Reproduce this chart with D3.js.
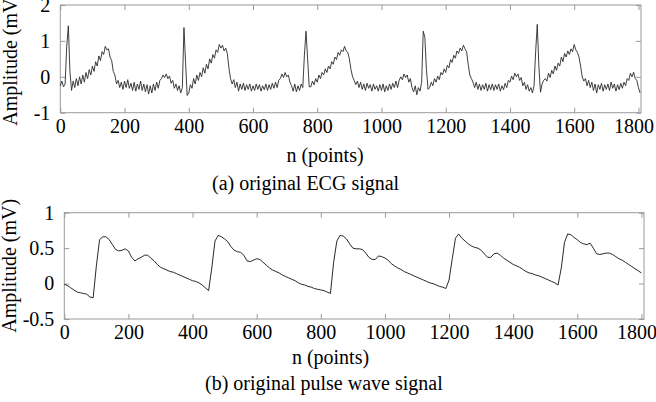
<!DOCTYPE html>
<html>
<head>
<meta charset="utf-8">
<script src="https://cdn.jsdelivr.net/npm/d3@7"></script>
<style>
  body { margin: 0; background: #fff; }
</style>
</head>
<body>
<svg id="chart" width="656" height="402"></svg>
<script>
// ECG samples, one every 5 points (n = 0, 5, 10 ...), mV
var ecgStep = 5;
var ecgValues = [
  -0.25, -0.12, -0.28, -0.2, 0.85, 1.42, 0.15, -0.38, -0.12, -0.3,      // 0
  -0.05, -0.25, 0.0, -0.2, 0.05, -0.15, 0.12, -0.05, 0.2, 0.05,         // 50
  0.3, 0.15, 0.42, 0.3, 0.58, 0.45, 0.7, 0.62, 0.85, 0.75,              // 100
  0.78, 0.55, 0.45, 0.15, 0.05, -0.2, -0.1, -0.3, -0.15, -0.35,         // 150
  -0.12, -0.3, -0.08, -0.32, -0.18, -0.38, -0.15, -0.4, -0.2, -0.35,    // 200
  -0.12, -0.38, -0.2, -0.42, -0.22, -0.48, -0.25, -0.45, -0.2, -0.38,   // 250
  -0.15, -0.32, -0.1, -0.05, 0.05, -0.02, 0.08, -0.05, 0.02, -0.18,     // 300
  -0.1, -0.32, -0.2, -0.38, -0.25, -0.45, -0.3, 1.37, 0.4, -0.52,       // 350
  -0.45, -0.22, -0.32, -0.05, -0.2, 0.05, -0.1, 0.12, 0.0, 0.25,        // 400
  0.1, 0.35, 0.22, 0.5, 0.38, 0.62, 0.52, 0.75, 0.68, 0.9,              // 450
  0.8, 0.88, 0.72, 0.8, 0.65, 0.25, -0.05, -0.2, -0.08, -0.3,           // 500
  -0.15, -0.4, -0.2, -0.35, -0.18, -0.38, -0.22, -0.35, -0.2, -0.4,     // 550
  -0.25, -0.38, -0.2, -0.35, -0.22, -0.4, -0.25, -0.36, -0.2, -0.38,    // 600
  -0.22, -0.35, -0.18, -0.32, -0.15, -0.3, -0.1, -0.05, 0.08, -0.02,    // 650
  0.12, 0.0, 0.05, -0.15, -0.25, -0.4, -0.2, -0.42, -0.25, -0.38,       // 700
  -0.2, -0.3, 0.6, 1.27, 0.5, -0.28, -0.28, -0.12, -0.22, -0.05,        // 750
  -0.15, 0.05, -0.05, 0.12, 0.05, 0.22, 0.12, 0.3, 0.22, 0.42,          // 800
  0.35, 0.55, 0.48, 0.68, 0.6, 0.75, 0.7, 0.85, 0.72, 0.68,             // 850
  0.5, 0.2, 0.0, -0.1, -0.22, -0.12, -0.3, -0.15, -0.35, -0.2,          // 900
  -0.38, -0.18, -0.32, -0.22, -0.4, -0.2, -0.35, -0.25, -0.4, -0.22,    // 950
  -0.38, -0.2, -0.42, -0.25, -0.38, -0.2, -0.35, -0.18, -0.3, -0.12,    // 1000
  -0.3, -0.1, 0.0, -0.08, 0.08, -0.02, 0.05, -0.15, -0.05, -0.3,        // 1050
  -0.42, -0.25, -0.5, -0.3, -0.4, -0.15, 1.27, 1.1, 0.2, -0.35,         // 1100
  -0.3, -0.15, -0.25, -0.05, -0.15, 0.02, -0.08, 0.12, 0.05, 0.22,      // 1150
  0.12, 0.32, 0.25, 0.48, 0.4, 0.6, 0.52, 0.72, 0.65, 0.8,              // 1200
  0.72, 0.88, 0.78, 0.7, 0.35, 0.05, -0.05, -0.15, -0.3, -0.15,         // 1250
  -0.35, -0.2, -0.38, -0.22, -0.35, -0.18, -0.4, -0.22, -0.36, -0.2,    // 1300
  -0.38, -0.22, -0.35, -0.2, -0.4, -0.25, -0.36, -0.18, -0.3, -0.1,     // 1350
  -0.15, 0.02, -0.08, 0.1, 0.0, 0.08, -0.1, -0.02, -0.25, -0.15,        // 1400
  -0.35, -0.22, -0.4, -0.3, -0.45, -0.25, 0.7, 1.46, 0.3, -0.43,        // 1450
  -0.2, -0.1, -0.05, -0.12, 0.1, -0.02, 0.18, 0.08, 0.3, 0.18,          // 1500
  0.38, 0.3, 0.55, 0.42, 0.65, 0.55, 0.72, 0.62, 0.78, 0.7,             // 1550
  0.9, 0.75, 0.68, 0.55, 0.3, 0.0, -0.12, -0.05, -0.25, -0.1,           // 1600
  -0.3, -0.15, -0.38, -0.2, -0.45, -0.22, -0.35, -0.18, -0.4, -0.22,    // 1650
  -0.35, -0.2, -0.38, -0.15, -0.32, -0.2, -0.4, -0.22, -0.36, -0.18,    // 1700
  -0.32, -0.15, -0.25, -0.05, -0.1, 0.1, 0.0, 0.13, -0.05, -0.1,        // 1750
  -0.3, -0.45                                                            // 1800
];

// pulse wave samples, one every 10 points, mV
var pulseStep = 10;
var pulseValues = [
  -0.01, -0.03, -0.06, -0.09, -0.12, -0.13, -0.14, -0.15, -0.19, -0.2,  // 0
  0.25, 0.62, 0.66, 0.66, 0.62, 0.55, 0.48, 0.46, 0.47, 0.49,           // 100
  0.46, 0.37, 0.32, 0.35, 0.37, 0.4, 0.4, 0.36, 0.32, 0.27,             // 200
  0.23, 0.21, 0.19, 0.17, 0.16, 0.14, 0.12, 0.1, 0.08, 0.06,            // 300
  0.04, 0.03, 0.01, -0.02, -0.06, -0.1, 0.22, 0.6, 0.68, 0.66,          // 400
  0.63, 0.59, 0.52, 0.47, 0.45, 0.44, 0.4, 0.32, 0.31, 0.33,            // 500
  0.35, 0.34, 0.3, 0.26, 0.22, 0.19, 0.17, 0.15, 0.12, 0.1,             // 600
  0.08, 0.06, 0.04, 0.01, -0.01, -0.02, -0.04, -0.05, -0.07, -0.08,     // 700
  -0.09, -0.1, -0.12, -0.14, 0.3, 0.6, 0.68, 0.67, 0.63, 0.56,          // 800
  0.5, 0.49, 0.49, 0.48, 0.43, 0.37, 0.34, 0.34, 0.39, 0.38,            // 900
  0.36, 0.33, 0.28, 0.25, 0.22, 0.2, 0.17, 0.15, 0.13, 0.11,            // 1000
  0.09, 0.07, 0.05, 0.03, 0.01, 0.0, -0.02, -0.04, -0.05, -0.07,        // 1100
  0.05, 0.35, 0.64, 0.7, 0.64, 0.6, 0.56, 0.53, 0.51, 0.5,              // 1200
  0.47, 0.42, 0.37, 0.37, 0.42, 0.43, 0.4, 0.36, 0.33, 0.3,             // 1300
  0.27, 0.25, 0.23, 0.2, 0.17, 0.15, 0.14, 0.12, 0.11, 0.09,            // 1400
  0.07, 0.05, 0.03, 0.01, -0.02, 0.22, 0.58, 0.7, 0.69, 0.65,           // 1500
  0.62, 0.58, 0.56, 0.55, 0.57, 0.5, 0.42, 0.41, 0.42, 0.43,            // 1600
  0.43, 0.41, 0.38, 0.35, 0.33, 0.3, 0.27, 0.24, 0.21, 0.18, 0.15       // 1700
];

var xTicks = [0, 200, 400, 600, 800, 1000, 1200, 1400, 1600, 1800];
var ecgYTicks = [-1, 0, 1, 2];
var pulseYTicks = [-0.5, 0, 0.5, 1];
var xMax = 1808;

var FONT = "Liberation Serif";

var svg = d3.select("#chart");

function drawPanel(opt) {
  var x = d3.scaleLinear().domain([0, xMax]).range([opt.left, opt.right]);
  var y = d3.scaleLinear().domain(opt.yDomain).range([opt.bottom, opt.top]);
  var g = svg.append("g").attr("font-family", FONT).attr("font-size", 20);

  var bottomAxis = g.append("g")
    .attr("transform", "translate(0," + opt.bottom + ")")
    .call(d3.axisBottom(x).tickValues(xTicks).tickSizeInner(-5).tickSizeOuter(0).tickPadding(6)
      .tickFormat(function(d) { return String(d); }));
  bottomAxis.selectAll("text").filter(function(d) { return d == 1800; }).attr("dx", "-5");

  var topAxis = g.append("g")
    .attr("transform", "translate(0," + opt.top + ")")
    .call(d3.axisTop(x).tickValues(xTicks).tickSizeInner(-5).tickSizeOuter(0).tickFormat(""));

  var leftAxis = g.append("g")
    .attr("transform", "translate(" + opt.left + ",0)")
    .call(d3.axisLeft(y).tickValues(opt.yTicks).tickSizeInner(-5).tickSizeOuter(0).tickPadding(10)
      .tickFormat(function(d) { return String(d); }));

  var rightAxis = g.append("g")
    .attr("transform", "translate(" + opt.right + ",0)")
    .call(d3.axisRight(y).tickValues(opt.yTicks).tickSizeInner(-5).tickSizeOuter(0).tickFormat(""));

  [bottomAxis, topAxis, leftAxis, rightAxis].forEach(function(a) {
    a.attr("font-family", FONT).attr("font-size", 20);
    a.select(".domain").remove();
    a.selectAll("line").attr("stroke", "#9a9a9a");
    a.selectAll("text").attr("font-family", FONT).attr("font-size", 20).attr("fill", "#000");
  });

  g.append("rect")
    .attr("x", opt.left).attr("y", opt.top)
    .attr("width", opt.right - opt.left).attr("height", opt.bottom - opt.top)
    .attr("fill", "none").attr("stroke", "#9a9a9a").attr("stroke-width", 1);

  var line = d3.line()
    .x(function(d, i) { return x(i * opt.step); })
    .y(function(d) { return y(d); });

  g.append("path")
    .datum(opt.values)
    .attr("fill", "none")
    .attr("stroke", opt.color)
    .attr("stroke-width", 0.9)
    .attr("stroke-linejoin", "round")
    .attr("d", line);

  g.append("text")
    .attr("transform", "translate(" + opt.ylabelX + "," + ((opt.top + opt.bottom) / 2) + ") rotate(-90)")
    .attr("text-anchor", "middle")
    .attr("font-family", FONT).attr("font-size", 20)
    .text("Amplitude (mV)");

  g.append("text")
    .attr("x", opt.xlabelX).attr("y", opt.xlabelY)
    .attr("text-anchor", "middle")
    .attr("font-family", FONT).attr("font-size", 20)
    .text("n (points)");

  g.append("text")
    .attr("x", opt.captionX).attr("y", opt.captionY)
    .attr("font-family", FONT).attr("font-size", 20)
    .text(opt.caption);
}

drawPanel({
  values: ecgValues, step: ecgStep, yDomain: [-1, 2], yTicks: ecgYTicks, color: "#2a2a2a",
  left: 60.3, right: 641, top: 5, bottom: 112.7,
  ylabelX: 17, xlabelX: 325, xlabelY: 162, captionX: 212, captionY: 190,
  caption: "(a) original ECG signal"
});

drawPanel({
  values: pulseValues, step: pulseStep, yDomain: [-0.5, 1], yTicks: pulseYTicks, color: "#111",
  left: 64.3, right: 644, top: 212.7, bottom: 319,
  ylabelX: 16, xlabelX: 330.5, xlabelY: 363.5, captionX: 205, captionY: 389.5,
  caption: "(b) original pulse wave signal"
});
</script>
</body>
</html>
